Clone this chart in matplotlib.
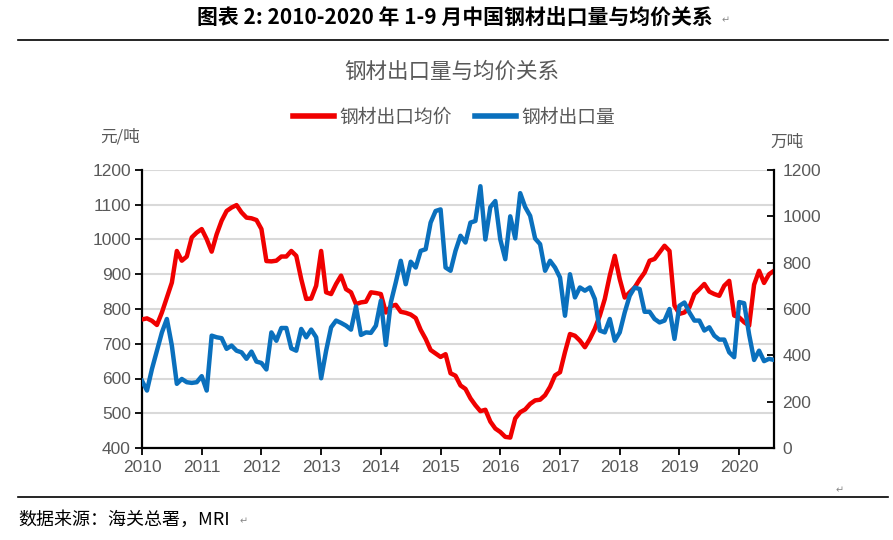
import numpy as np
import matplotlib
matplotlib.use('Agg')
import matplotlib.pyplot as plt
from matplotlib import font_manager
from matplotlib.lines import Line2D

# 字体
names = {f.name for f in font_manager.fontManager.ttflist}
num_font = 'Liberation Sans Narrow' if 'Liberation Sans Narrow' in names else 'Liberation Sans'
plt.rcParams['font.family'] = [num_font, 'Noto Sans CJK SC', 'DejaVu Sans']
plt.rcParams['axes.unicode_minus'] = False

# 数据：2010-01 ~ 2020-08 月度
start_year = 2010
price = [770, 773, 766, 754, 790, 833, 876, 967, 939, 951, 1006, 1020,
         1030, 1001, 965, 1015, 1054, 1082, 1092, 1099, 1078, 1063, 1061, 1056,
         1030, 938, 937, 939, 951, 951, 967, 953, 886, 829, 830, 867,
         967, 848, 843, 872, 896, 857, 848, 814, 819, 821, 848, 846,
         843, 790, 808, 812, 792, 789, 784, 774, 740, 714, 682, 672,
         662, 670, 615, 608, 580, 570, 543, 523, 506, 510, 476, 456,
         446, 432, 430, 485, 503, 511, 527, 537, 539, 552, 576, 609,
         618, 676, 728, 723, 709, 690, 714, 743, 781, 829, 896, 953,
         886, 833, 848, 862, 885, 905, 939, 944, 963, 982, 967, 810,
         786, 790, 805, 843, 857, 872, 850, 843, 838, 867, 881, 781,
         776, 762, 752, 870, 910, 875, 900, 910]
volume = [290, 248, 341, 420, 499, 557, 442, 277, 298, 284, 281, 284,
          310, 248, 485, 478, 474, 428, 442, 420, 413, 385, 416, 373,
          367, 339, 499, 463, 518, 518, 430, 420, 514, 478, 511, 478,
          301, 420, 521, 550, 540, 528, 511, 611, 488, 499, 497, 528,
          636, 445, 628, 715, 808, 707, 804, 779, 851, 858, 973, 1023,
          1030, 779, 765, 851, 916, 887, 973, 980, 1130, 900, 1040, 1066,
          900, 815, 1000, 905, 1100, 1040, 1002, 904, 880, 765, 808, 779,
          736, 571, 750, 650, 693, 679, 693, 643, 507, 499, 557, 463,
          499, 585, 657, 693, 686, 588, 588, 557, 542, 550, 600, 471,
          614, 628, 585, 550, 550, 507, 521, 485, 468, 468, 413, 392,
          630, 625, 490, 380, 420, 375, 385, 380]
x = start_year + np.arange(len(price)) / 12
years = list(range(2010, 2021))

gray = '#595959'
red = '#f00000'
blue = '#0a70bd'

fig = plt.figure(figsize=(8.93, 5.4), dpi=100)
ax = fig.add_axes([142 / 893, 1 - 448 / 540, (774 - 142) / 893, (448 - 170) / 540])
ax2 = ax.twinx()

ax.plot(x, price, color=red, lw=3.2, solid_joinstyle='round', zorder=3)
ax2.plot(x, volume, color=blue, lw=3.2, solid_joinstyle='round', zorder=3)

ax.set_xlim(start_year, x[-1])
ax.set_ylim(400, 1200)
ax2.set_ylim(0, 1200)
ax.set_yticks(range(400, 1201, 100))
ax2.set_yticks(range(0, 1201, 200))
ax.set_xticks(years)
ax.set_xticklabels([str(y) for y in years])

ax.grid(axis='y', color='#d9d9d9', lw=1.5)
ax.set_axisbelow(True)

for a in (ax, ax2):
    a.spines['top'].set_visible(False)
ax2.spines['left'].set_visible(False)
ax2.spines['bottom'].set_visible(False)
ax.spines['right'].set_visible(False)
for s in ('left', 'bottom'):
    ax.spines[s].set_linewidth(1.6)
    ax.spines[s].set_color('black')
ax2.spines['right'].set_linewidth(1.6)
ax2.spines['right'].set_color('black')

ax.tick_params(axis='y', direction='out', length=5, width=1.3, labelsize=12.5, labelcolor=gray, pad=3)
ax.tick_params(axis='x', direction='out', length=5, width=1.3, labelsize=12.5, labelcolor=gray, pad=4)
ax2.tick_params(axis='y', direction='in', length=5, width=1.3, labelsize=12.5, labelcolor=gray, pad=6)

# 标题、图例、单位
cjk = ['Noto Sans CJK SC', 'DejaVu Sans']
fig.text(455 / 893, 1 - 18 / 540, '图表 2: 2010-2020 年 1-9 月中国钢材出口量与均价关系',
         ha='center', va='center', fontsize=15, fontweight='bold', family=cjk)
fig.text(722 / 893, 1 - 20 / 540, '↵', ha='left', va='center', fontsize=7, color='#888888', family=cjk)
fig.add_artist(Line2D([18 / 893, 888 / 893], [1 - 40 / 540, 1 - 40 / 540], color='black', lw=1.2))
fig.text(452 / 893, 1 - 72 / 540, '钢材出口量与均价关系', ha='center', va='center',
         fontsize=15.5, color=gray, family=cjk)

handles = [Line2D([], [], color=red, lw=4), Line2D([], [], color=blue, lw=4)]
fig.legend(handles, ['钢材出口均价', '钢材出口量'], loc='center', ncol=2,
           bbox_to_anchor=(454 / 893, 1 - 117 / 540), frameon=False,
           prop={'family': cjk, 'size': 13.5}, labelcolor=gray,
           handlelength=2.2, handletextpad=0.3, columnspacing=1.2)

fig.text(100 / 893, 1 - 137 / 540, '元/吨', ha='left', va='center', fontsize=12, color=gray, family=cjk)
fig.text(770 / 893, 1 - 142 / 540, '万吨', ha='left', va='center', fontsize=12, color=gray, family=cjk)

fig.text(836 / 893, 1 - 490 / 540, '↵', ha='left', va='center', fontsize=7, color='#888888', family=cjk)
fig.add_artist(Line2D([18 / 893, 888 / 893], [1 - 497 / 540, 1 - 497 / 540], color='black', lw=1.2))
fig.text(18 / 893, 1 - 520 / 540, '数据来源：海关总署，MRI', ha='left', va='center',
         fontsize=13, color='black', family=cjk)
fig.text(240 / 893, 1 - 521 / 540, '↵', ha='left', va='center', fontsize=7, color='#888888', family=cjk)

fig.savefig('out.png', dpi=100)
